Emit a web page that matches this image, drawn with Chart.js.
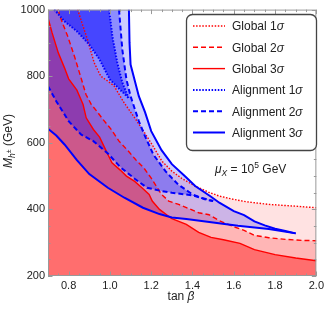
<!DOCTYPE html>
<html>
<head>
<meta charset="utf-8">
<script src="https://cdn.jsdelivr.net/npm/chart.js@4.4.0/dist/chart.umd.min.js"></script>
<style>
  html, body { margin: 0; padding: 0; background: #fff; }
</style>
</head>
<body>
<canvas id="chart" width="327" height="310"></canvas>
<script>
// contours: tan beta and M_h+- (GeV)
const global1Tan = [0.844, 0.87, 0.892, 0.924, 0.956, 0.99, 1.02, 1.068, 1.12, 1.165, 1.204, 1.252, 1.30, 1.35, 1.413, 1.477, 1.53, 1.60, 1.66, 1.77, 1.89, 2.00];
const global1M   = [1000, 950, 909, 840, 800, 785, 771, 721, 675, 633, 595, 545, 515, 492, 470, 452, 440, 430, 423, 415, 410, 405];
const global2Tan = [0.748, 0.77, 0.796, 0.828, 0.86, 0.884, 0.91, 0.94, 0.964, 1.004, 1.044, 1.092, 1.125, 1.165, 1.20, 1.25, 1.285, 1.333, 1.43, 1.48, 1.53, 1.60, 1.65, 1.70, 1.77, 1.85, 1.93, 2.00];
const global2M   = [1000, 960, 919, 860, 795, 745, 715, 692, 672, 642, 605, 573, 549, 524, 494, 445, 425, 415, 390, 384, 366, 348, 337, 322, 315, 310, 307, 306];
const global3Tan = [0.70, 0.72, 0.75, 0.78, 0.80, 0.84, 0.87, 0.885, 0.92, 0.95, 0.98, 1.01, 1.05, 1.08, 1.12, 1.155, 1.19, 1.205, 1.24, 1.30, 1.37, 1.43, 1.49, 1.55, 1.63, 1.70, 1.80, 1.90, 2.00];
const global3M   = [975, 930, 870, 825, 792, 758, 715, 675, 640, 617, 578, 540, 518, 500, 484, 465, 445, 425, 400, 372, 355, 331, 316, 309, 298, 279, 264, 254, 246];

const align1LeftTan  = [0.73, 0.78, 0.84, 0.90, 0.95, 1.00, 1.04, 1.09];
const align1LeftM    = [1000, 965, 935, 895, 850, 790, 765, 735];
const align1RightTan = [0.996, 1.004, 1.012, 1.036, 1.06, 1.09];
const align1RightM   = [1000, 960, 919, 840, 781, 735];
const align2UpTan  = [1.044, 1.06, 1.08, 1.10, 1.14, 1.17, 1.21, 1.27, 1.33, 1.40, 1.46, 1.50];
const align2UpM    = [1000, 880, 790, 740, 665, 620, 565, 514, 475, 445, 430, 425];
const align2LowTan = [0.70, 0.74, 0.80, 0.86, 0.92, 0.99, 1.05, 1.12, 1.18, 1.25, 1.30, 1.40, 1.50];
const align2LowM   = [770, 725, 665, 625, 605, 568, 527, 492, 465, 455, 450, 442, 425];
const align3UpTan  = [1.092, 1.095, 1.10, 1.14, 1.17, 1.20, 1.25, 1.30, 1.365, 1.413, 1.49, 1.53, 1.60, 1.65, 1.70, 1.75, 1.80, 1.85, 1.90];
const align3UpM    = [1000, 900, 835, 740, 692, 635, 578, 536, 499, 470, 438, 420, 395, 383, 364, 352, 342, 335, 328];
const align3LowTan = [0.70, 0.74, 0.78, 0.84, 0.90, 0.99, 1.07, 1.16, 1.24, 1.30, 1.37, 1.50, 1.62, 1.77, 1.90];
const align3LowM   = [642, 622, 595, 548, 506, 465, 435, 405, 386, 376, 371, 361, 351, 341, 328];

const xTicks = [0.8, 1.0, 1.2, 1.4, 1.6, 1.8, 2.0];
const yTicks = [200, 400, 600, 800, 1000];
const legendLabels = ['Global 1', 'Global 2', 'Global 3', 'Alignment 1', 'Alignment 2', 'Alignment 3'];

const X_MIN = 0.7, X_MAX = 2.0, Y_MIN = 200, Y_MAX = 1000;
const FONT = "'Liberation Sans', Arial, sans-serif";
const RED = 'rgb(255,0,0)';
const BLUE = 'rgb(0,0,255)';
const DOT = [1.5, 1.6];
const DASH = [5, 3];

const pts = (tan, m) => tan.map((t, i) => ({ x: t, y: m[i] }));
const corner = { x: X_MIN, y: Y_MAX };

function fillSet(data, fill, color, order) {
    return { data, fill, backgroundColor: color, borderColor: 'rgba(0,0,0,0)', borderWidth: 0, pointRadius: 0, order };
}
function lineSet(data, color, width, dash, order) {
    return { data, fill: false, borderColor: color, borderWidth: width, borderDash: dash, pointRadius: 0, order };
}

const datasets = [
    fillSet([corner, ...pts(global1Tan, global1M)], 'start', 'rgb(255,226,226)', 10),
    fillSet([corner, ...pts(global2Tan, global2M)], 'start', 'rgb(255,182,182)', 9),
    fillSet(pts(global3Tan, global3M), 'start', 'rgb(255,110,110)', 8),
    fillSet([corner, ...pts(align3UpTan, align3UpM)], 14, 'rgba(0,0,255,0.2)', 7),
    fillSet([corner, ...pts(align2UpTan, align2UpM)], 12, 'rgba(0,0,255,0.31)', 6),
    fillSet([pts(align1LeftTan, align1LeftM)[0], ...pts(align1RightTan, align1RightM)], 9, 'rgba(0,0,255,0.5)', 5),
    lineSet(pts(global1Tan, global1M), RED, 1.4, DOT, 3),
    lineSet(pts(global2Tan, global2M), RED, 1.4, DASH, 3),
    lineSet(pts(global3Tan, global3M), RED, 1.4, [], 3),
    lineSet(pts(align1LeftTan, align1LeftM), BLUE, 2, DOT, 1),
    lineSet(pts(align1RightTan, align1RightM), BLUE, 2, DOT, 1),
    lineSet(pts(align2UpTan, align2UpM), BLUE, 2, DASH, 1),
    lineSet(pts(align2LowTan, align2LowM), BLUE, 2, DASH, 1),
    lineSet(pts(align3UpTan, align3UpM), BLUE, 2, [], 1),
    lineSet(pts(align3LowTan, align3LowM), BLUE, 2, [], 1)
];

// styled text pieces (italic, sub/superscripts)
function drawRuns(ctx, runs, x, y) {
    for (const r of runs) {
        ctx.font = (r.italic ? 'italic ' : '') + r.size + 'px ' + FONT;
        ctx.fillText(r.text, x, y + (r.dy || 0));
        x += ctx.measureText(r.text).width;
    }
    return x;
}
function runsWidth(ctx, runs) {
    let w = 0;
    for (const r of runs) {
        ctx.font = (r.italic ? 'italic ' : '') + r.size + 'px ' + FONT;
        w += ctx.measureText(r.text).width;
    }
    return w;
}

const framePlugin = {
    id: 'frame',
    afterDatasetsDraw(chart) {
        const { ctx, chartArea: a, scales: { x, y } } = chart;
        ctx.save();
        ctx.strokeStyle = '#999';
        ctx.lineWidth = 1;
        ctx.strokeRect(a.left + 0.5, a.top + 0.5, a.right - a.left - 1, a.bottom - a.top - 1);
        ctx.beginPath();
        for (let v = X_MIN; v <= X_MAX + 1e-9; v += 0.05) {
            const major = Math.abs(v * 5 - Math.round(v * 5)) < 1e-6;
            const len = major ? 4.5 : 2.5;
            const px = Math.round(x.getPixelForValue(v)) + 0.5;
            ctx.moveTo(px, a.bottom); ctx.lineTo(px, a.bottom - len);
            ctx.moveTo(px, a.top); ctx.lineTo(px, a.top + len);
        }
        for (let v = Y_MIN; v <= Y_MAX; v += 50) {
            const len = v % 200 === 0 ? 4.5 : 2.5;
            const py = Math.round(y.getPixelForValue(v)) + 0.5;
            ctx.moveTo(a.left, py); ctx.lineTo(a.left + len, py);
            ctx.moveTo(a.right, py); ctx.lineTo(a.right - len, py);
        }
        ctx.stroke();
        ctx.restore();
    },
    afterDraw(chart) {
        const { ctx } = chart;
        ctx.save();
        ctx.fillStyle = '#222';
        ctx.textBaseline = 'alphabetic';

        // legend box
        const bx = 186, by = 14, bw = 130, bh = 136;
        ctx.beginPath();
        ctx.roundRect(bx + 0.5, by + 0.5, bw, bh, 6);
        ctx.fillStyle = '#fff';
        ctx.fill();
        ctx.strokeStyle = '#444';
        ctx.lineWidth = 1.3;
        ctx.stroke();
        const styles = [
            [RED, 1.4, DOT], [RED, 1.4, DASH], [RED, 1.4, []],
            [BLUE, 2, DOT], [BLUE, 2, DASH], [BLUE, 2, []]
        ];
        legendLabels.forEach((label, i) => {
            const cy = 26 + i * 21.3;
            const [c, w, d] = styles[i];
            ctx.beginPath();
            ctx.strokeStyle = c;
            ctx.lineWidth = w;
            ctx.setLineDash(d);
            ctx.moveTo(193, cy);
            ctx.lineTo(225, cy);
            ctx.stroke();
            ctx.setLineDash([]);
            ctx.fillStyle = '#222';
            drawRuns(ctx, [{ text: label, size: 12 }, { text: 'σ', size: 12, italic: true }], 232, cy + 4.3);
        });

        // mu_X annotation
        drawRuns(ctx, [
            { text: 'μ', size: 12, italic: true },
            { text: 'X', size: 8.5, italic: true, dy: 3 },
            { text: ' = 10', size: 12 },
            { text: '5', size: 8.5, dy: -5 },
            { text: ' GeV', size: 12 }
        ], 215, 173);

        // x title
        const xRuns = [{ text: 'tan ', size: 12 }, { text: 'β', size: 12, italic: true }];
        drawRuns(ctx, xRuns, 181 - runsWidth(ctx, xRuns) / 2, 300);

        // y title
        const yRuns = [
            { text: 'M', size: 12, italic: true },
            { text: 'h', size: 8.5, italic: true, dy: 3 },
            { text: '±', size: 7, dy: -1 },
            { text: ' (GeV)', size: 12 }
        ];
        ctx.translate(12, 141);
        ctx.rotate(-Math.PI / 2);
        drawRuns(ctx, yRuns, -runsWidth(ctx, yRuns) / 2, 0);
        ctx.restore();
    }
};

new Chart(document.getElementById('chart'), {
    type: 'line',
    data: { datasets },
    options: {
        responsive: false,
        animation: false,
        devicePixelRatio: 1,
        events: [],
        layout: { padding: { left: 0, top: 6, right: 8, bottom: 0 } },
        elements: { line: { tension: 0 } },
        plugins: {
            legend: { display: false },
            tooltip: { enabled: false },
            filler: { drawTime: 'beforeDatasetsDraw' }
        },
        scales: {
            x: {
                type: 'linear',
                min: X_MIN,
                max: X_MAX,
                afterBuildTicks: s => { s.ticks = xTicks.map(v => ({ value: v })); },
                afterFit: s => { s.height = 34; },
                grid: { display: false, drawTicks: false },
                border: { display: false },
                ticks: { callback: v => v.toFixed(1), color: '#222', font: { size: 11, family: FONT }, padding: 3, maxRotation: 0, autoSkip: false }
            },
            y: {
                type: 'linear',
                min: Y_MIN,
                max: Y_MAX,
                afterBuildTicks: s => { s.ticks = yTicks.map(v => ({ value: v })); },
                afterFit: s => { s.width = 48; },
                grid: { display: false, drawTicks: false },
                border: { display: false },
                ticks: { callback: v => String(v), color: '#222', font: { size: 11, family: FONT }, padding: 3 }
            }
        }
    },
    plugins: [framePlugin]
});
</script>
</body>
</html>
